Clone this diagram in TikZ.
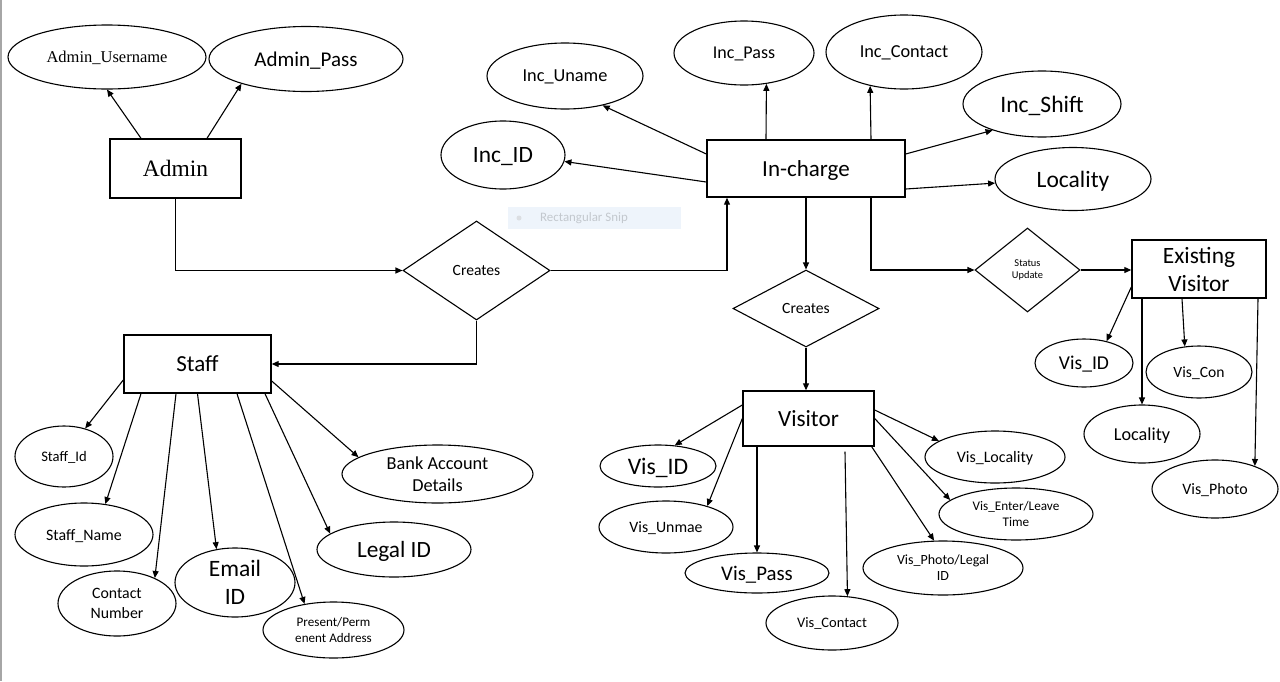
\documentclass[tikz,border=0pt]{standalone}
\usepackage{fontspec}
\setmainfont{Carlito}
\newfontfamily\timesfont{Liberation Serif}
\usetikzlibrary{shapes.geometric,arrows.meta}
\definecolor{snipbg}{HTML}{EEF4FB}
\definecolor{sniptext}{HTML}{C3C8CE}
\newcommand{\fsz}[2]{\fontsize{#1}{#2}\selectfont}

\begin{document}
\begin{tikzpicture}[x=1pt,y=-1pt,
    entity/.style={draw, line width=1.4pt, inner sep=0pt, align=center},
    attr/.style={ellipse, draw, line width=1.1pt, inner sep=0pt, align=center},
    rel/.style={diamond, draw, line width=1.1pt, inner sep=0pt, align=center},
    oneline/.style={text depth=0pt},
    conn/.style={-{Triangle[length=7pt,width=6pt]}, line width=1.1pt}]
    \useasboundingbox (0,0) rectangle (1280,681);
    % page edge on the left
    \draw[gray!70, line width=1.5pt] (1,0) -- (1,681);

    % leftover snipping tool label
    \node[fill=snipbg, minimum width=173pt, minimum height=22pt, inner sep=0pt, anchor=west] (snip) at (508,218) {};
    \fill[sniptext!60] (519,218) circle (2.5pt);
    \node[anchor=west, text=sniptext, font=\fsz{12.9}{15}, inner sep=0pt] (sniplabel) at (540,218) {Rectangular Snip};

    % Admin
    \node[entity, oneline, minimum width=131pt, minimum height=59pt, font=\timesfont\fsz{23.5}{28}] (admin) at (175.5,168.5) {Admin};
    \node[attr, oneline, minimum width=198pt, minimum height=64pt, font=\timesfont\fsz{16.5}{20}] (adminuser) at (107,57) {Admin\_Username};
    \node[attr, oneline, minimum width=194pt, minimum height=65pt, font=\fsz{21}{25}] (adminpass) at (306,59) {Admin\_Pass};

    % In-charge
    \node[entity, oneline, minimum width=198pt, minimum height=57pt, font=\fsz{23}{28}] (incharge) at (806,168.5) {In-charge};
    \node[attr, oneline, minimum width=124pt, minimum height=68pt, font=\fsz{23.4}{28}] (incid) at (503,155) {Inc\_ID};
    \node[attr, oneline, minimum width=156pt, minimum height=66pt, font=\fsz{18.3}{22}] (incuname) at (565,76) {Inc\_Uname};
    \node[attr, oneline, minimum width=140pt, minimum height=64pt, font=\fsz{18}{22}] (incpass) at (744,53) {Inc\_Pass};
    \node[attr, oneline, minimum width=156pt, minimum height=74pt, font=\fsz{18.3}{22}] (incontact) at (904,52) {Inc\_Contact};
    \node[attr, oneline, minimum width=158pt, minimum height=66pt, font=\fsz{23.6}{28}] (incshift) at (1042,104) {Inc\_Shift};
    \node[attr, oneline, minimum width=156pt, minimum height=63pt, font=\fsz{23.5}{28}] (locality) at (1073,179) {Locality};

    % relationships
    \node[rel, oneline, minimum width=147pt, minimum height=99pt, font=\fsz{15.6}{19}] (creates1) at (476.5,270.5) {Creates};
    \node[rel, oneline, minimum width=146pt, minimum height=77pt, font=\fsz{15.6}{19}] (creates2) at (806,308.5) {Creates};
    \node[rel, minimum width=105pt, minimum height=84pt, font=\fsz{10.4}{12.7}] (status) at (1027.5,270) {Status\\Update};

    % Existing Visitor
    \node[entity, minimum width=134pt, minimum height=58pt, font=\fsz{23.4}{28}] (exist) at (1199,269) {Existing\\Visitor};
    \node[attr, oneline, minimum width=98pt, minimum height=48pt, font=\fsz{19.6}{24}] (evid) at (1084,363) {Vis\_ID};
    \node[attr, oneline, minimum width=106pt, minimum height=52pt, font=\fsz{15.6}{19}] (evcon) at (1199,372) {Vis\_Con};
    \node[attr, oneline, minimum width=116pt, minimum height=58pt, font=\fsz{18.2}{22}] (evloc) at (1142,434) {Locality};
    \node[attr, oneline, minimum width=126pt, minimum height=58pt, font=\fsz{15.9}{19}] (evphoto) at (1215,489) {Vis\_Photo};

    % Visitor
    \node[entity, oneline, minimum width=131pt, minimum height=55pt, font=\fsz{23.2}{28}] (visitor) at (808.5,418.5) {Visitor};
    \node[attr, oneline, minimum width=116pt, minimum height=42pt, font=\fsz{23.7}{28}] (visid) at (658,466) {Vis\_ID};
    \node[attr, oneline, minimum width=134pt, minimum height=52pt, font=\fsz{15.8}{19}] (visunmae) at (666,527) {Vis\_Unmae};
    \node[attr, oneline, minimum width=144pt, minimum height=40pt, font=\fsz{20.8}{25}] (vispass) at (757,573) {Vis\_Pass};
    \node[attr, oneline, minimum width=132pt, minimum height=54pt, font=\fsz{14.5}{17}] (viscontact) at (832,623) {Vis\_Contact};
    \node[attr, minimum width=160pt, minimum height=54pt, font=\fsz{14}{16}] (visphoto) at (943,568) {Vis\_Photo/Legal\\ID};
    \node[attr, minimum width=154pt, minimum height=52pt, font=\fsz{13.2}{15.3}] (visenter) at (1016,514) {Vis\_Enter/Leave\\Time};
    \node[attr, oneline, minimum width=140pt, minimum height=52pt, font=\fsz{16}{19}] (visloc) at (995,457) {Vis\_Locality};

    % Staff
    \node[entity, oneline, minimum width=147pt, minimum height=58pt, font=\fsz{23}{28}] (staff) at (197.5,364) {Staff};
    \node[attr, oneline, minimum width=98pt, minimum height=61pt, font=\fsz{14.6}{18}] (staffid) at (64,456.5) {Staff\_Id};
    \node[attr, oneline, minimum width=138pt, minimum height=63pt, font=\fsz{15.9}{19}] (staffname) at (84,534.5) {Staff\_Name};
    \node[attr, minimum width=118pt, minimum height=65pt, font=\fsz{15.8}{20}] (contact) at (117,603.5) {Contact\\Number};
    \node[attr, minimum width=120pt, minimum height=69pt, font=\fsz{23.5}{27.7}] (email) at (235,582.5) {Email\\ID};
    \node[attr, minimum width=141pt, minimum height=56pt, font=\fsz{13.1}{16.6}] (address) at (333.5,630) {Present/Perm\\enent Address};
    \node[attr, oneline, minimum width=154pt, minimum height=55pt, font=\fsz{23.3}{28}] (legal) at (394,549.5) {Legal ID};
    \node[attr, minimum width=191pt, minimum height=58pt, font=\fsz{18.3}{22.4}] (bank) at (437.5,474) {Bank Account\\Details};

    % Admin links
    \draw[conn] ([xshift=-34.5pt]admin.north) -- (adminuser.south);
    \draw[conn] ([xshift=31.5pt]admin.north) -- (adminpass.-159);
    \draw[conn] (admin.south) |- (creates1.west);
    \draw[conn] (creates1.east) -| ([xshift=-79pt]incharge.south);
    \draw[conn] (creates1.south) |- (staff.east);

    % In-charge links
    \draw[conn] ([yshift=-13.5pt]incharge.west) -- (incid.-6);
    \draw[conn] ([yshift=14.5pt]incharge.west) -- (incuname.-38);
    \draw[conn] ([xshift=-40pt]incharge.north) -- (incpass.-54);
    \draw[conn] ([xshift=65pt]incharge.north) -- (incontact.-135);
    \draw[conn] ([yshift=14.5pt]incharge.east) -- (incshift.-152);
    \draw[conn] ([yshift=-20.5pt]incharge.east) -- (locality.-177);
    \draw[conn] (incharge.south) -- (creates2.north);
    \draw[conn] ([xshift=65pt]incharge.south) |- (status.west);
    \draw[conn] (status.east) -- (status.east -| exist.west);
    \draw[conn] (creates2.south) -- (visitor.north -| creates2.south);

    % Existing Visitor links
    \draw[conn] ([yshift=-18pt]exist.west) -- (evid.44);
    \draw[conn] ([xshift=-57pt]exist.south) -- (evloc.north);
    \draw[conn] ([xshift=-17pt]exist.south) -- (evcon.119);
    \draw[conn] ([xshift=59pt]exist.south) -- (evphoto.30);

    % Visitor links
    \draw[conn] ([yshift=13.5pt]visitor.west) -- (visid.51);
    \draw[conn] (visitor.west) -- (visunmae.27);
    \draw[conn] ([xshift=-51.5pt]visitor.south) -- (vispass.north);
    \draw[conn] ([xshift=36.5pt,yshift=-5pt]visitor.south) -- (viscontact.60);
    \draw[conn] ([xshift=-3pt]visitor.south east) -- (visphoto.108);
    \draw[conn] (visitor.east) -- (visenter.168);
    \draw[conn] ([yshift=8.5pt]visitor.east) -- (visloc.164);

    % Staff links
    \draw[conn] ([yshift=-16pt]staff.west) -- (staffid.53);
    \draw[conn] ([xshift=-56.5pt]staff.south) -- (staffname.55);
    \draw[conn] ([xshift=-21.5pt]staff.south) -- (contact.34);
    \draw[conn] (staff.south) -- (email.119);
    \draw[conn] ([xshift=39.5pt]staff.south) -- (address.138);
    \draw[conn] ([xshift=67.5pt]staff.south) -- (legal.166);
    \draw[conn] ([yshift=-17pt]staff.east) -- (bank.168);
\end{tikzpicture}
\end{document}
